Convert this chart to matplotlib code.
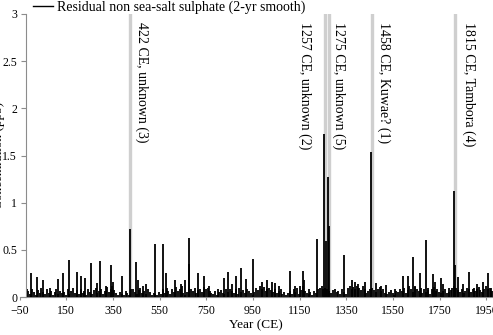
import numpy as np
import matplotlib.pyplot as plt

# main spikes (year CE, ppb)
spike_years = [-1, 26, 52, 80, 116, 135, 163, 198, 212, 230, 258, 281, 295, 320, 342, 352,
               388, 422, 449, 456, 478, 490, 530, 565, 578, 616, 640, 659, 675, 678, 716,
               740, 760, 800, 826, 844, 860, 877, 897, 921, 951, 987, 1011, 1030, 1045,
               1060, 1108, 1130, 1150, 1165, 1170, 1190, 1225, 1255, 1262, 1270, 1274,
               1340, 1373, 1385, 1400, 1430, 1455, 1477, 1500, 1520, 1560, 1591, 1615,
               1636, 1645, 1666, 1690, 1700, 1720, 1730, 1754, 1765, 1790, 1813, 1817,
               1829, 1850, 1876, 1895, 1910, 1934, 1958, 1970]
spike_vals = [0.25, 0.21, 0.18, 0.10, 0.19, 0.25, 0.39, 0.27, 0.22, 0.20, 0.36, 0.15, 0.38,
              0.12, 0.34, 0.16, 0.22, 0.72, 0.37, 0.18, 0.12, 0.14, 0.56, 0.56, 0.25, 0.18,
              0.14, 0.18, 0.63, 0.35, 0.25, 0.22, 0.12, 0.09, 0.20, 0.27, 0.14, 0.22, 0.31,
              0.19, 0.40, 0.16, 0.18, 0.16, 0.15, 0.12, 0.28, 0.12, 0.12, 0.28, 0.18, 0.09,
              0.61, 1.73, 0.59, 1.27, 0.75, 0.44, 0.18, 0.16, 0.14, 0.16, 1.54, 0.15, 0.12,
              0.13, 0.08, 0.22, 0.22, 0.42, 0.12, 0.25, 0.60, 0.10, 0.24, 0.16, 0.20, 0.14,
              0.10, 1.12, 0.34, 0.21, 0.14, 0.27, 0.10, 0.14, 0.16, 0.25, 0.10]

# low background values, every 8 years from -20 CE
bg_start, bg_step = -20, 8
bg_vals = [0.08, 0.06, 0.03, 0.09, 0.05, 0.02, 0.07, 0.04, 0.10, 0.05,
           0.03, 0.08, 0.04, 0.06, 0.02, 0.05, 0.09, 0.03, 0.06, 0.04,
           0.05, 0.02, 0.08, 0.03, 0.06, 0.10, 0.04, 0.07, 0.03, 0.09,
           0.04, 0.06, 0.02, 0.08, 0.05, 0.03, 0.07, 0.10, 0.04, 0.06,
           0.08, 0.03, 0.06, 0.11, 0.05, 0.09, 0.12, 0.07, 0.04, 0.02,
           0.05, 0.03, 0.02, 0.06, 0.04, 0.02, 0.08, 0.09, 0.05, 0.03,
           0.07, 0.10, 0.04, 0.06, 0.03, 0.08, 0.05, 0.02, 0.04, 0.03,
           0.02, 0.05, 0.03, 0.08, 0.04, 0.10, 0.06, 0.03, 0.09, 0.05,
           0.11, 0.06, 0.09, 0.12, 0.04, 0.02, 0.05, 0.03, 0.08, 0.06,
           0.10, 0.04, 0.07, 0.09, 0.05, 0.11, 0.08, 0.10, 0.06, 0.04,
           0.03, 0.06, 0.02, 0.05, 0.07, 0.04, 0.03, 0.08, 0.05, 0.09,
           0.06, 0.04, 0.08, 0.03, 0.10, 0.05, 0.07, 0.04, 0.09, 0.06,
           0.04, 0.02, 0.05, 0.10, 0.07, 0.12, 0.08, 0.11, 0.06, 0.09,
           0.10, 0.07, 0.05, 0.08, 0.04, 0.06, 0.09, 0.03, 0.05, 0.02,
           0.04, 0.06, 0.03, 0.08, 0.05, 0.10, 0.03, 0.07, 0.12, 0.06,
           0.04, 0.03, 0.05, 0.02, 0.06, 0.04, 0.08, 0.10, 0.12, 0.09,
           0.10, 0.08, 0.06, 0.04, 0.07, 0.08, 0.05, 0.06, 0.03, 0.08,
           0.05, 0.03, 0.10, 0.12, 0.09, 0.11, 0.08, 0.12, 0.10, 0.07,
           0.12, 0.09, 0.04, 0.06, 0.08, 0.10, 0.07, 0.05, 0.09, 0.11,
           0.06, 0.08, 0.04, 0.03, 0.05, 0.07, 0.04, 0.02, 0.06, 0.05,
           0.08, 0.06, 0.10, 0.04, 0.07, 0.12, 0.09, 0.05, 0.11, 0.08,
           0.06, 0.10, 0.04, 0.08, 0.05, 0.07, 0.03, 0.09, 0.11, 0.06,
           0.08, 0.05, 0.04, 0.06, 0.09, 0.04, 0.05, 0.07, 0.10, 0.12,
           0.10, 0.07, 0.05, 0.08, 0.04, 0.06, 0.10, 0.08, 0.05, 0.09,
           0.06, 0.08, 0.11, 0.07, 0.05, 0.09, 0.12, 0.08, 0.10, 0.06]

event_years = [422, 1257, 1275, 1458, 1815]
event_labels = ['422 CE, unknown (3)', '1257 CE, unknown (2)', '1275 CE, unknown (5)',
                '1458 CE, Kuwae? (1)', '1815 CE, Tambora (4)']
label_dx = [12, -20, 10, 12, 14]   # pixel offset of each label from its band

xticks = list(range(-50, 1951, 200))
yticks = [0, 0.5, 1, 1.5, 2, 2.5, 3]
ytick_labels = ['0', '0.5', '1', '1.5', '2', '2.5', '3']

plt.rcParams['font.family'] = ['Liberation Serif', 'DejaVu Serif']

fig = plt.figure(figsize=(4.93, 3.35), dpi=100)
ax = fig.add_axes([19.5 / 493, 38 / 335, (493 - 19.5) / 493, 283 / 335])

# grey bands for the eruptions
for yr in event_years:
    ax.axvline(yr, color='#cfcfcf', lw=2.4, zorder=1)

bg_years = bg_start + bg_step * np.arange(len(bg_vals))
ax.vlines(bg_years, 0, bg_vals, color='black', lw=1.3, zorder=2)
line = ax.vlines(spike_years, 0, spike_vals, color='black', lw=1.3, zorder=3)
ax.hlines(0, min(bg_years[0], spike_years[0]), bg_years[-1], color='black', lw=1.0, zorder=3)

for yr, lab, dx in zip(event_years, event_labels, label_dx):
    ax.annotate(lab, xy=(yr, 1), xycoords=ax.get_xaxis_transform(),
                xytext=(dx, -8), textcoords='offset pixels',
                rotation=-90, ha='center', va='top', fontsize=10, color='black')

ax.set_xlim(-50, 1978)
ax.set_ylim(0, 3)
ax.set_xticks(xticks)
ax.set_yticks(yticks)
ax.set_yticklabels(ytick_labels)

for side in ['top', 'right']:
    ax.spines[side].set_visible(False)
ax.spines['left'].set_position(('data', -22))
ax.spines['left'].set_color('#8c8c8c')
ax.spines['bottom'].set_color('#8c8c8c')
ax.tick_params(axis='y', direction='out', length=3.5, width=0.8, color='#8c8c8c',
               labelsize=8.5, pad=3)
ax.tick_params(axis='x', direction='out', length=2.5, width=0.8, color='#8c8c8c',
               labelsize=8.5, pad=3)

ax.set_xlabel('Year (CE)', fontsize=9.5, labelpad=2)
fig.text(-1.0 / 493, 0.535, 'Concentration (ppb)', rotation=90, ha='center', va='center',
         fontsize=9.5)

fig.legend([plt.Line2D([], [], color='black', lw=1.0)],
           ['Residual non sea-salt sulphate (2-yr smooth)'],
           loc='center left', bbox_to_anchor=(33 / 493, 1 - 7.5 / 335),
           frameon=False, fontsize=10, borderpad=0, borderaxespad=0,
           handlelength=1.45, handletextpad=0.3)

fig.savefig('out.png', dpi=100)
